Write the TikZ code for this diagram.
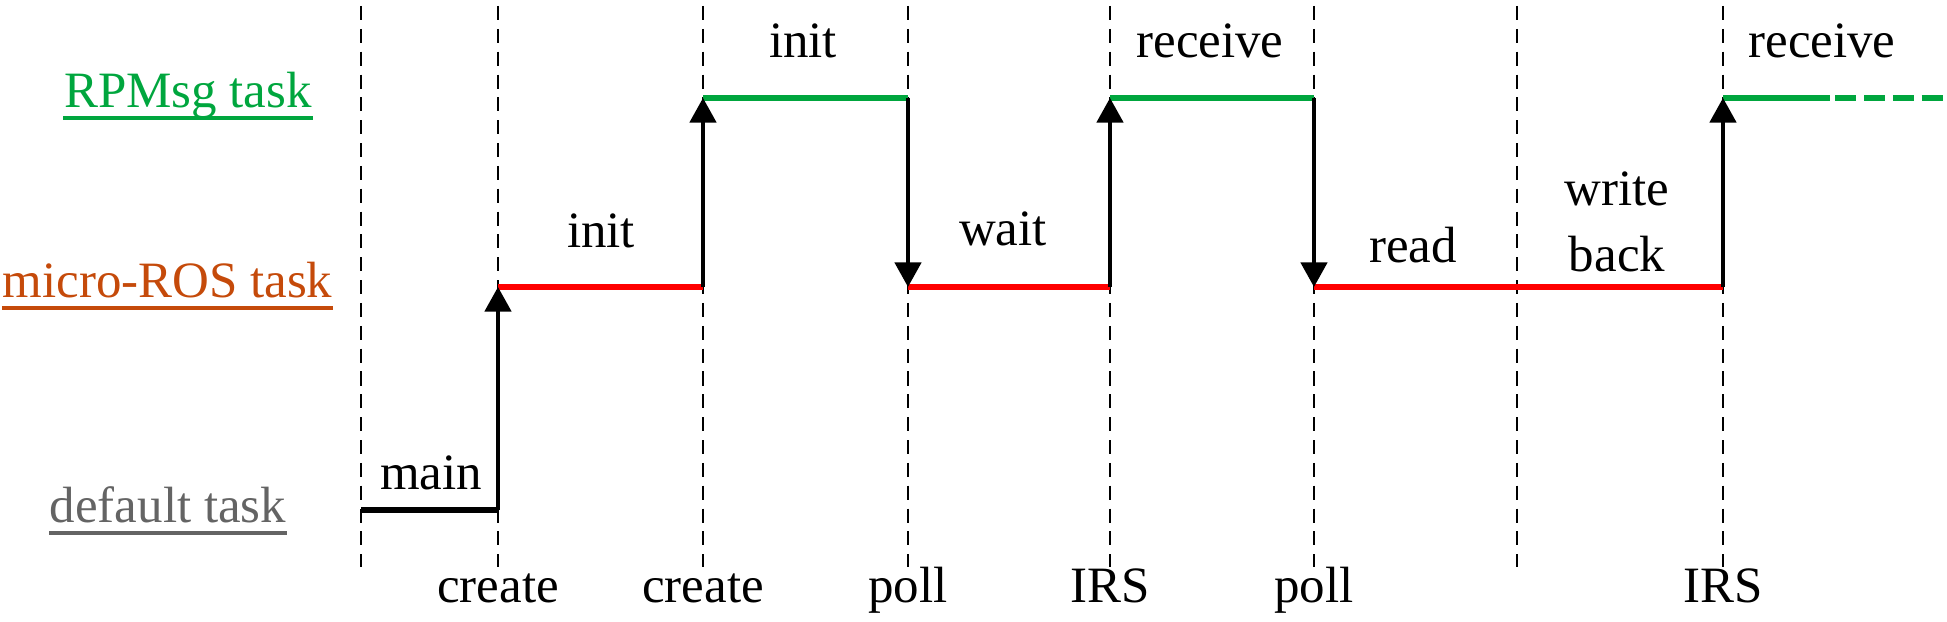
\documentclass[tikz,border=0pt]{standalone}
\usepackage{fontspec}
\setmainfont{Liberation Serif}
\usepackage{xcolor}
\usetikzlibrary{arrows.meta}
\definecolor{rpmsg}{RGB}{0,166,62}
\definecolor{uros}{RGB}{197,74,10}
\definecolor{deftask}{RGB}{100,100,100}
\definecolor{busy}{RGB}{255,0,0}

\tikzset{
  timeline/.style={line width=0.6pt, dash pattern=on 4pt off 2.5pt},
  switch/.style={line width=1pt, -{Triangle[width=7.5pt,length=7pt]}},
  run/.style={line width=1.6pt},
  txt/.style={anchor=base, inner sep=0pt, font=\fontsize{14.5}{19}\selectfont},
  uline/.style={line width=0.9pt},
}

\begin{document}
\begin{tikzpicture}
  \useasboundingbox (0,0) rectangle (19.47,6.22);
  % time marks and task levels
  \foreach \x [count=\i] in {3.61,4.98,7.03,9.08,11.10,13.14,15.17,17.23} {
    \coordinate (t\i) at (\x,6.16);
    \coordinate (b\i) at (\x,0.55);
    \coordinate (g\i) at (\x,5.24);
    \coordinate (r\i) at (\x,3.35);
    \coordinate (k\i) at (\x,1.12);
    \draw[timeline] (t\i) -- (b\i);
  }
  \coordinate (gend) at (18.30,5.24);
  \coordinate (gfade) at (19.45,5.24);

  % task labels
  \node[txt, rpmsg] (lrpm) at (1.88,5.14) {RPMsg task};
  \node[txt, uros] (lros) at (1.675,3.24) {micro-ROS task};
  \node[txt, deftask] (ldef) at (1.68,0.99) {default task};
  \draw[uline, rpmsg] ([yshift=-0.1cm]lrpm.base west) -- ([yshift=-0.1cm]lrpm.base east);
  \draw[uline, uros] ([yshift=-0.1cm]lros.base west) -- ([yshift=-0.1cm]lros.base east);
  \draw[uline, deftask] ([yshift=-0.1cm]ldef.base west) -- ([yshift=-0.1cm]ldef.base east);

  % running tasks
  \draw[run] (k1) -- (k2);
  \draw[run, busy] (r2) -- (r3);
  \draw[run, rpmsg] (g3) -- (g4);
  \draw[run, busy] (r4) -- (r5);
  \draw[run, rpmsg] (g5) -- (g6);
  \draw[run, busy] (r6) -- (r8);
  \draw[run, rpmsg] (g8) -- (gend);
  \draw[run, rpmsg, dash pattern=on 6pt off 2.2pt, dash phase=-1.5pt] (gend) -- (gfade);

  % context switches
  \draw[switch] (k2) -- (r2);
  \draw[switch] (r3) -- (g3);
  \draw[switch] (g4) -- (r4);
  \draw[switch] (r5) -- (g5);
  \draw[switch] (g6) -- (r6);
  \draw[switch] (r8) -- (g8);

  % what each task does
  \node[txt] (n1) at (8.03,5.64) {init};
  \node[txt] (n2) at (12.10,5.64) {receive};
  \node[txt] (n3) at (18.22,5.64) {receive};
  \node[txt] (n4) at (6.01,3.74) {init};
  \node[txt] (n5) at (10.03,3.76) {wait};
  \node[txt] (n6) at (14.13,3.59) {read};
  \node[txt, align=center] (n7) at (16.17,3.50) {write\\back};
  \node[txt] (n8) at (4.31,1.32) {main};

  % events
  \node[txt] (e2) at (4.98,0.19) {create};
  \node[txt] (e3) at (7.03,0.19) {create};
  \node[txt] (e4) at (9.08,0.19) {poll};
  \node[txt] (e5) at (11.10,0.19) {IRS};
  \node[txt] (e6) at (13.14,0.19) {poll};
  \node[txt] (e8) at (17.23,0.19) {IRS};
\end{tikzpicture}
\end{document}
